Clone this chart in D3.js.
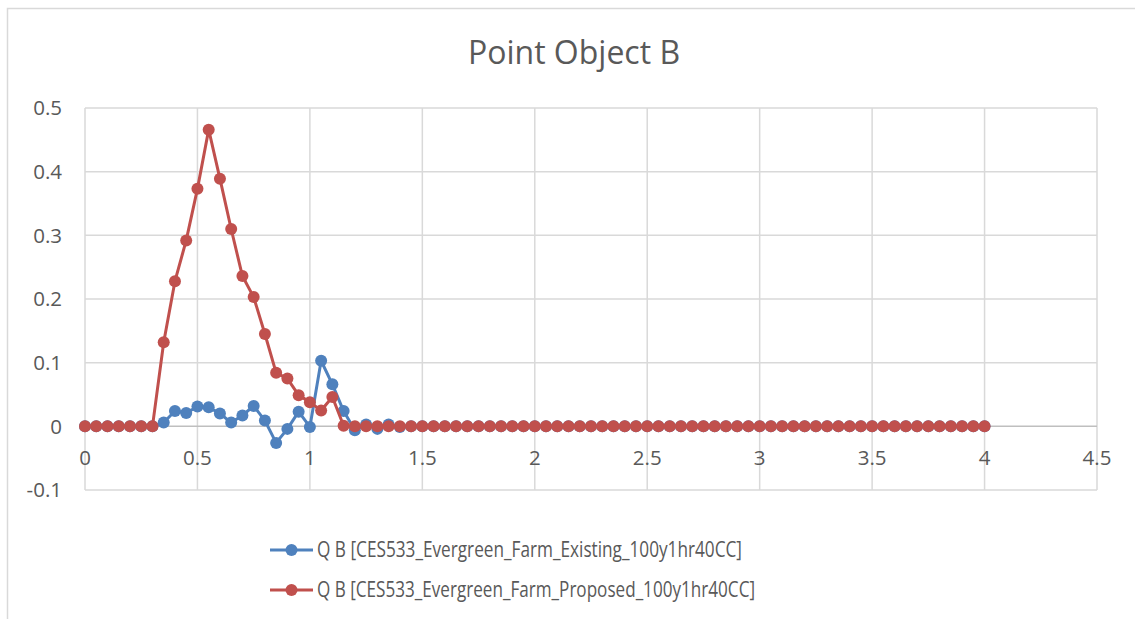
<!DOCTYPE html>
<html>
<head>
<meta charset="utf-8">
<script src="https://cdn.jsdelivr.net/npm/d3@7"></script>
<style>
  body { margin: 0; background: #fff; }
  text { font-family: "Open Sans", sans-serif; fill: #595959; }
</style>
</head>
<body>
<div id="chart"></div>
<script>
// time steps (hours) shared by both series
var times = [
  0, 0.05, 0.1, 0.15, 0.2, 0.25, 0.3, 0.35, 0.4, 0.45,
  0.5, 0.55, 0.6, 0.65, 0.7, 0.75, 0.8, 0.85, 0.9, 0.95,
  1, 1.05, 1.1, 1.15, 1.2, 1.25, 1.3, 1.35, 1.4, 1.45,
  1.5, 1.55, 1.6, 1.65, 1.7, 1.75, 1.8, 1.85, 1.9, 1.95,
  2, 2.05, 2.1, 2.15, 2.2, 2.25, 2.3, 2.35, 2.4, 2.45,
  2.5, 2.55, 2.6, 2.65, 2.7, 2.75, 2.8, 2.85, 2.9, 2.95,
  3, 3.05, 3.1, 3.15, 3.2, 3.25, 3.3, 3.35, 3.4, 3.45,
  3.5, 3.55, 3.6, 3.65, 3.7, 3.75, 3.8, 3.85, 3.9, 3.95,
  4
];

var existing = [
  0, 0, 0, 0, 0, 0, 0, 0.006, 0.024, 0.021,
  0.031, 0.030, 0.020, 0.006, 0.017, 0.032, 0.009, -0.026, -0.004, 0.023,
  -0.001, 0.103, 0.066, 0.024, -0.006, 0.003, -0.004, 0.003, -0.001, 0,
  0, 0, 0, 0, 0, 0, 0, 0, 0, 0,
  0, 0, 0, 0, 0, 0, 0, 0, 0, 0,
  0, 0, 0, 0, 0, 0, 0, 0, 0, 0,
  0, 0, 0, 0, 0, 0, 0, 0, 0, 0,
  0, 0, 0, 0, 0, 0, 0, 0, 0, 0,
  0
];

var proposed = [
  0, 0, 0, 0, 0, 0, 0, 0.132, 0.228, 0.292,
  0.373, 0.466, 0.389, 0.310, 0.236, 0.203, 0.145, 0.084, 0.075, 0.049,
  0.038, 0.025, 0.046, 0.001, 0, 0, 0, 0, 0, 0,
  0, 0, 0, 0, 0, 0, 0, 0, 0, 0,
  0, 0, 0, 0, 0, 0, 0, 0, 0, 0,
  0, 0, 0, 0, 0, 0, 0, 0, 0, 0,
  0, 0, 0, 0, 0, 0, 0, 0, 0, 0,
  0, 0, 0, 0, 0, 0, 0, 0, 0, 0,
  0
];

var xTicks = [0, 0.5, 1, 1.5, 2, 2.5, 3, 3.5, 4, 4.5];
var yTicks = [-0.1, 0, 0.1, 0.2, 0.3, 0.4, 0.5];

var seriesNames = [
  "Q B [CES533_Evergreen_Farm_Existing_100y1hr40CC]",
  "Q B [CES533_Evergreen_Farm_Proposed_100y1hr40CC]"
];
var seriesColors = ["#4f81bd", "#c0504d"];

var W = 1135, H = 619;
var plot = {left: 85, right: 1097, top: 108, bottom: 490};

var svg = d3.select("#chart").append("svg")
    .attr("width", W)
    .attr("height", H);

// chart frame (right and bottom edges fall outside the picture)
svg.append("rect")
    .attr("x", 7.5).attr("y", 8.5)
    .attr("width", W + 20).attr("height", H + 20)
    .attr("fill", "#fff")
    .attr("stroke", "#d9d9d9")
    .attr("stroke-width", 1.5);

var x = d3.scaleLinear().domain([0, 4.5]).range([plot.left, plot.right]);
var y = d3.scaleLinear().domain([-0.1, 0.5]).range([plot.bottom, plot.top]);

// gridlines
svg.append("g").selectAll("line.hgrid")
    .data(yTicks.filter(function(d) { return d !== 0; }))
    .enter().append("line")
    .attr("x1", plot.left).attr("x2", plot.right)
    .attr("y1", function(d) { return y(d); })
    .attr("y2", function(d) { return y(d); })
    .attr("stroke", "#d9d9d9").attr("stroke-width", 1.5);

svg.append("g").selectAll("line.vgrid")
    .data(xTicks)
    .enter().append("line")
    .attr("y1", plot.top).attr("y2", plot.bottom)
    .attr("x1", function(d) { return x(d); })
    .attr("x2", function(d) { return x(d); })
    .attr("stroke", "#d9d9d9").attr("stroke-width", 1.5);

// horizontal axis sits at y = 0
svg.append("line")
    .attr("x1", plot.left).attr("x2", plot.right)
    .attr("y1", y(0)).attr("y2", y(0))
    .attr("stroke", "#bfbfbf").attr("stroke-width", 1.5);

// tick labels
svg.append("g").selectAll("text")
    .data(yTicks)
    .enter().append("text")
    .attr("x", 62)
    .attr("y", function(d) { return y(d); })
    .attr("dy", "0.35em")
    .attr("text-anchor", "end")
    .style("font-size", "20.5px")
    .text(function(d) { return d; });

svg.append("g").selectAll("text")
    .data(xTicks)
    .enter().append("text")
    .attr("x", function(d) { return x(d); })
    .attr("y", y(0) + 31)
    .attr("dy", "0.35em")
    .attr("text-anchor", "middle")
    .style("font-size", "20.5px")
    .text(function(d) { return d; });

// title
svg.append("text")
    .attr("x", 574).attr("y", 64)
    .attr("text-anchor", "middle")
    .style("font-size", "32px")
    .text("Point Object B");

// series
var line = d3.line()
    .x(function(d) { return x(d[0]); })
    .y(function(d) { return y(d[1]); });

[existing, proposed].forEach(function(vals, i) {
    var pts = times.map(function(t, j) { return [t, vals[j]]; });
    var g = svg.append("g");
    g.append("path")
        .datum(pts)
        .attr("d", line)
        .attr("fill", "none")
        .attr("stroke", seriesColors[i])
        .attr("stroke-width", 3)
        .attr("stroke-linejoin", "round");
    g.selectAll("circle")
        .data(pts)
        .enter().append("circle")
        .attr("cx", function(d) { return x(d[0]); })
        .attr("cy", function(d) { return y(d[1]); })
        .attr("r", 6)
        .attr("fill", seriesColors[i]);
});

// legend (text squeezed to the narrower width of the original font)
var legendWidths = [425, 438];
var legend = svg.append("g").selectAll("g")
    .data(seriesNames)
    .enter().append("g")
    .attr("transform", function(d, i) { return "translate(0," + (550 + i * 40) + ")"; });

legend.append("line")
    .attr("x1", 270).attr("x2", 313)
    .attr("stroke", function(d, i) { return seriesColors[i]; })
    .attr("stroke-width", 3);
legend.append("circle")
    .attr("cx", 291.5).attr("r", 6)
    .attr("fill", function(d, i) { return seriesColors[i]; });
legend.append("text")
    .attr("x", 317)
    .attr("dy", "0.35em")
    .attr("textLength", function(d, i) { return legendWidths[i]; })
    .attr("lengthAdjust", "spacingAndGlyphs")
    .style("font-size", "21px")
    .text(function(d) { return d; });
</script>
</body>
</html>
